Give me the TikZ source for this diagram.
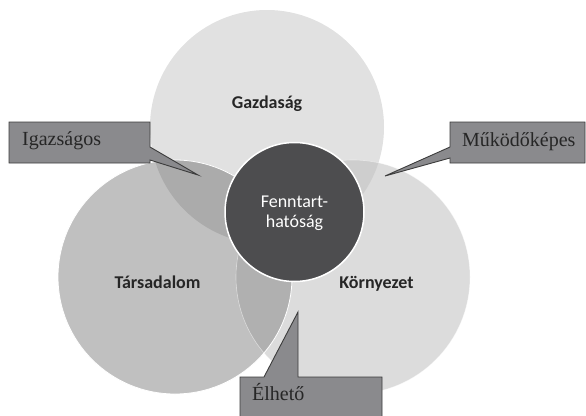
\documentclass[tikz,border=0pt]{standalone}
\usepackage{fontspec}
\setmainfont{Liberation Serif}
\newfontfamily\calib{Carlito}
\definecolor{cTop}{HTML}{E1E1E1}
\definecolor{cLeft}{HTML}{C0C0C0}
\definecolor{cRight}{HTML}{DCDCDC}
\definecolor{cTL}{HTML}{ABABAB}
\definecolor{cTR}{HTML}{CECECE}
\definecolor{cLR}{HTML}{B0B0B0}
\definecolor{cCenter}{HTML}{4D4D4F}
\definecolor{cCall}{HTML}{8A8A8D}
\definecolor{cCallLine}{HTML}{3C3C3C}
\definecolor{cText}{HTML}{262626}
\tikzset{
  lbl/.style={font=\calib\bfseries\fontsize{18}{20}\selectfont, text=cText, inner sep=0pt, anchor=base},
  calltext/.style={font=\fontsize{20}{22}\selectfont, text=cText, inner sep=0pt, anchor=base west},
  callbox/.style={fill=cCall, draw=cCallLine, line width=0.9pt, line join=miter},
  ring/.style={draw=white, line width=0.8pt}
}
\begin{document}
\begin{tikzpicture}[x=1pt,y=-1pt]
\useasboundingbox (0,0) rectangle (586,415);
\clip (0,0) rectangle (586,415);
% circle centres
\coordinate (T) at (267,127);
\coordinate (L) at (175,277);
\coordinate (R) at (353,277);
\coordinate (C) at (294.5,212);
% base circles
\fill[cTop] (T) circle (117);
\fill[cLeft] (L) circle (117);
\fill[cRight] (R) circle (117);
% overlaps
\begin{scope}
  \clip (T) circle (117);
  \fill[cTL] (L) circle (117);
\end{scope}
\begin{scope}
  \clip (T) circle (117);
  \fill[cTR] (R) circle (117);
\end{scope}
\begin{scope}
  \clip (L) circle (117);
  \fill[cLR] (R) circle (117);
\end{scope}
% thin white edges
\draw[ring] (L) circle (117);
\draw[ring, draw opacity=0.45, line width=0.6pt] (R) circle (117);
% centre circle
\node[circle, fill=cCenter, draw=white, line width=1.5pt, minimum size=139pt, inner sep=0pt] (center) at (C) {};
\node[font=\calib\fontsize{18}{20}\selectfont, text=white, align=center, inner sep=0pt] (fenn) at (294.5,213.5) {Fenntart-\\hatóság};
% labels
\node[lbl] (gazd) at (267,108) {Gazdaság};
\node[lbl] (tars) at (157.5,288) {Társadalom};
\node[lbl] (korny) at (376.5,288) {Környezet};
% callouts
\draw[callbox] (9,122) -- (150,122) -- (150,147) -- (198,175) -- (150,160) -- (150,163) -- (9,163) -- cycle;
\node[calltext] (igaz) at (22,145) {Igazságos};
\draw[callbox] (450,122) -- (585,122) -- (585,163) -- (450,163) -- (450,158) -- (385,176) -- (450,147) -- cycle;
\node[calltext] (mukod) at (462,146) {Működőképes};
\draw[callbox] (240,377) -- (264,377) -- (298,312) -- (298,377) -- (382,377) -- (382,425) -- (240,425) -- cycle;
\node[calltext] (elheto) at (252,400) {Élhető};
\end{tikzpicture}
\end{document}
